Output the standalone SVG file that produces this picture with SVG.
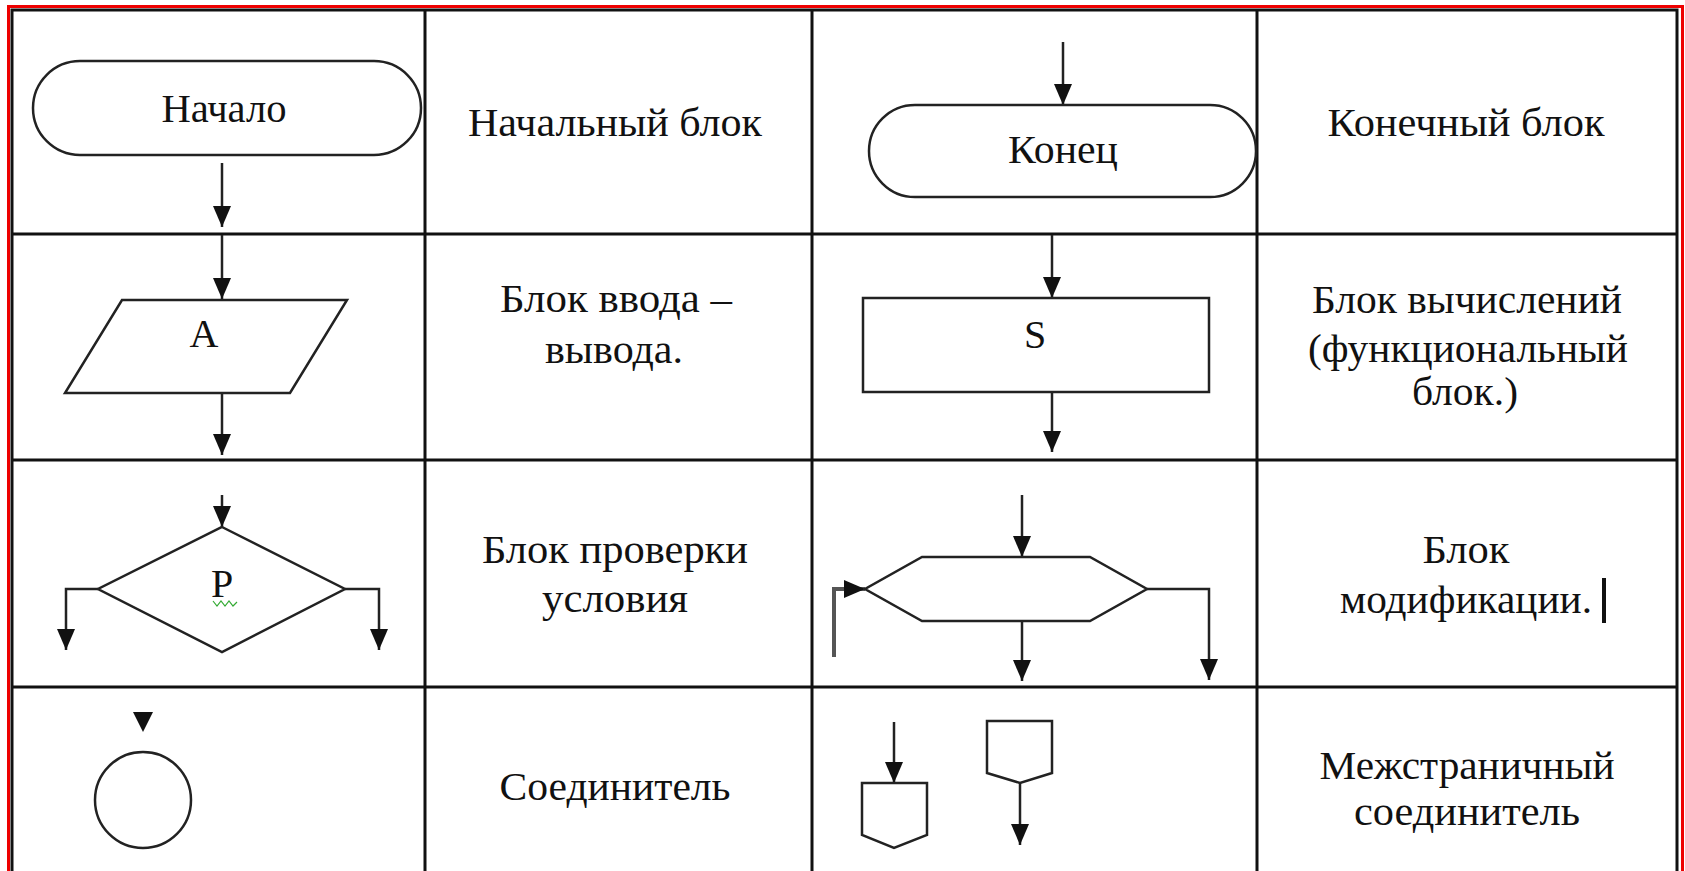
<svg xmlns="http://www.w3.org/2000/svg" width="1685" height="871" viewBox="0 0 1685 871">
<style>
.grid{stroke:#111;stroke-width:3;fill:none}
.shape{stroke:#222;stroke-width:2.5;fill:#fff}
.line{stroke:#222;stroke-width:2.5;fill:none}
.t{font-family:"Liberation Serif","DejaVu Serif",serif;font-size:40px;fill:#111;text-anchor:middle}
</style>
<defs>
<marker id="ah" markerUnits="userSpaceOnUse" markerWidth="22" markerHeight="20" refX="21" refY="10" orient="auto">
<path d="M0,1 L21,10 L0,19 z" fill="#111"/>
</marker>
</defs>
<rect x="0" y="0" width="1685" height="871" fill="#fff"/>
<rect x="8.5" y="6.5" width="1674" height="900" fill="none" stroke="#e00" stroke-width="3"/>
<g id="table">
<rect class="grid" x="12" y="10" width="1665" height="900"/>
<line class="grid" x1="425" y1="10" x2="425" y2="871"/>
<line class="grid" x1="812" y1="10" x2="812" y2="871"/>
<line class="grid" x1="1257" y1="10" x2="1257" y2="871"/>
<line class="grid" x1="12" y1="234" x2="1677" y2="234"/>
<line class="grid" x1="12" y1="460" x2="1677" y2="460"/>
<line class="grid" x1="12" y1="687" x2="1677" y2="687"/>
</g>
<g id="connectors">
<line class="line" x1="222" y1="163" x2="222" y2="227" marker-end="url(#ah)"/>
<line class="line" x1="1063" y1="42" x2="1063" y2="105" marker-end="url(#ah)"/>
<line class="line" x1="222" y1="235" x2="222" y2="299" marker-end="url(#ah)"/>
<line class="line" x1="222" y1="393" x2="222" y2="455" marker-end="url(#ah)"/>
<line class="line" x1="1052" y1="235" x2="1052" y2="298" marker-end="url(#ah)"/>
<line class="line" x1="1052" y1="392" x2="1052" y2="452" marker-end="url(#ah)"/>
<line class="line" x1="222" y1="495" x2="222" y2="527" marker-end="url(#ah)"/>
<polyline class="line" points="98,589 66,589 66,650" marker-end="url(#ah)"/>
<polyline class="line" points="345,589 379,589 379,650" marker-end="url(#ah)"/>
<line class="line" x1="1022" y1="495" x2="1022" y2="557" marker-end="url(#ah)"/>
<line class="line" x1="1022" y1="621" x2="1022" y2="681" marker-end="url(#ah)"/>
<polyline class="line" points="1147,589 1209,589 1209,680" marker-end="url(#ah)"/>
<polyline class="line" points="834,657 834,589 865,589" marker-end="url(#ah)" style="stroke:#555;stroke-width:4"/>
<line class="line" x1="894" y1="722" x2="894" y2="783" marker-end="url(#ah)"/>
<line class="line" x1="1020" y1="783" x2="1020" y2="845" marker-end="url(#ah)"/>
<polygon points="133,712 153,712 143,732" fill="#111"/>
</g>
<g id="start">
<rect class="shape" x="33" y="61" width="388" height="94" rx="47"/>
<text class="t" x="224" y="122" textLength="125" lengthAdjust="spacingAndGlyphs">Начало</text>
</g>
<g id="start-label"><text class="t" x="615" y="136" textLength="294" lengthAdjust="spacingAndGlyphs">Начальный блок</text></g>
<g id="end">
<rect class="shape" x="869" y="105" width="387" height="92" rx="46"/>
<text class="t" x="1063" y="163" textLength="110" lengthAdjust="spacingAndGlyphs">Конец</text>
</g>
<g id="end-label"><text class="t" x="1466" y="136" textLength="277" lengthAdjust="spacingAndGlyphs">Конечный блок</text></g>
<g id="io">
<polygon class="shape" points="122,300 347,300 290,393 65,393"/>
<text class="t" x="204" y="347">A</text>
</g>
<g id="io-label">
<text class="t" x="616" y="312" textLength="232" lengthAdjust="spacingAndGlyphs">Блок ввода –</text>
<text class="t" x="614" y="363" textLength="138" lengthAdjust="spacingAndGlyphs">вывода.</text>
</g>
<g id="process">
<rect class="shape" x="863" y="298" width="346" height="94"/>
<text class="t" x="1035" y="348">S</text>
</g>
<g id="process-label">
<text class="t" x="1467" y="313" textLength="310" lengthAdjust="spacingAndGlyphs">Блок вычислений</text>
<text class="t" x="1468" y="362" textLength="320" lengthAdjust="spacingAndGlyphs">(функциональный</text>
<text class="t" x="1465" y="405" textLength="106" lengthAdjust="spacingAndGlyphs">блок.)</text>
</g>
<g id="decision">
<polygon class="shape" points="222,527 345,589 222,652 98,589"/>
<text class="t" x="222" y="597">P</text>
<polyline points="213,601 217,606 221,601 225,606 229,601 233,606 237,602" fill="none" stroke="#3a3" stroke-width="1.2"/>
</g>
<g id="decision-label">
<text class="t" x="615" y="563" textLength="266" lengthAdjust="spacingAndGlyphs">Блок проверки</text>
<text class="t" x="615" y="612" textLength="146" lengthAdjust="spacingAndGlyphs">условия</text>
</g>
<g id="modification">
<polygon class="shape" points="922,557 1090,557 1147,589 1090,621 922,621 865,589"/>
</g>
<g id="modification-label">
<text class="t" x="1466" y="563" textLength="87" lengthAdjust="spacingAndGlyphs">Блок</text>
<text class="t" x="1466" y="613" textLength="252" lengthAdjust="spacingAndGlyphs">модификации.</text>
<rect x="1602" y="578" width="4" height="45" fill="#111"/>
</g>
<g id="connector">
<circle class="shape" cx="143" cy="800" r="48"/>
</g>
<g id="connector-label"><text class="t" x="615" y="800" textLength="231" lengthAdjust="spacingAndGlyphs">Соединитель</text></g>
<g id="offpage-in">
<polygon class="shape" points="862,783 927,783 927,835 894,848 862,835"/>
</g>
<g id="offpage-out">
<polygon class="shape" points="987,721 1052,721 1052,773 1020,783 987,773"/>
</g>
<g id="offpage-label">
<text class="t" x="1467" y="779" textLength="295" lengthAdjust="spacingAndGlyphs">Межстраничный</text>
<text class="t" x="1467" y="825" textLength="226" lengthAdjust="spacingAndGlyphs">соединитель</text>
</g>
</svg>
